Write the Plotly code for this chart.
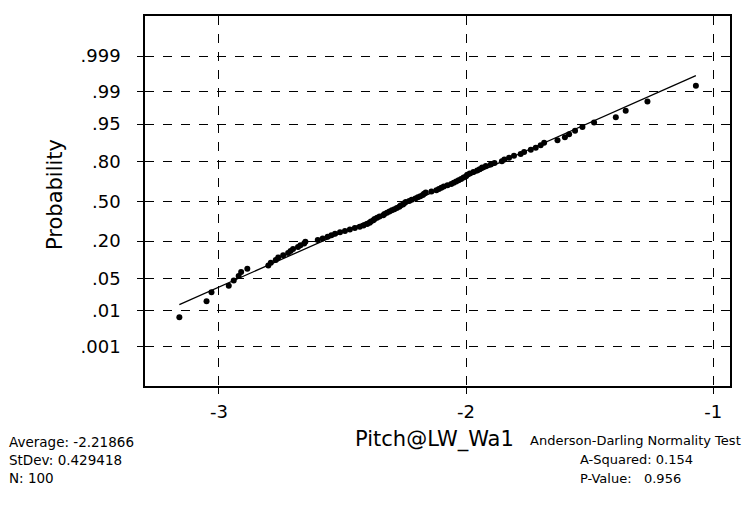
import plotly.graph_objects as go
from statistics import NormalDist

# ---- data ----
pitch_sorted = [
    -3.16, -3.05, -3.03, -2.96, -2.94, -2.92, -2.91, -2.885, -2.80, -2.79,
    -2.77, -2.76, -2.74, -2.72, -2.71, -2.70, -2.68, -2.67, -2.655, -2.65,
    -2.60, -2.58, -2.56, -2.545, -2.53, -2.51, -2.49, -2.47, -2.45, -2.43,
    -2.415, -2.40, -2.39, -2.385, -2.375, -2.37, -2.36, -2.35, -2.335, -2.33,
    -2.32, -2.31, -2.30, -2.29, -2.28, -2.27, -2.265, -2.255, -2.25, -2.244,
    -2.23, -2.22, -2.205, -2.195, -2.185, -2.175, -2.17, -2.163, -2.14, -2.12,
    -2.11, -2.10, -2.09, -2.075, -2.06, -2.05, -2.04, -2.03, -2.02, -2.01,
    -2.00, -1.995, -1.985, -1.97, -1.955, -1.945, -1.935, -1.92, -1.90, -1.885,
    -1.855, -1.845, -1.826, -1.806, -1.779, -1.765, -1.738, -1.718, -1.698, -1.684,
    -1.63, -1.60, -1.583, -1.559, -1.529, -1.482, -1.394, -1.354, -1.266, -1.07,
]
mean_val = -2.21866
stdev_val = 0.429418
n_val = 100
a_squared = 0.154
p_value = 0.956

prob_ticks = [0.999, 0.99, 0.95, 0.80, 0.50, 0.20, 0.05, 0.01, 0.001]
prob_labels = [".999", ".99", ".95", ".80", ".50", ".20", ".05", ".01", ".001"]
x_ticks = [-3, -2, -1]
x_tick_labels = ["-3", "-2", "-1"]

# ---- probability-plot construction ----
nd = NormalDist()
n = len(pitch_sorted)
z_pos = [nd.inv_cdf((i + 1 - 0.3) / (n + 0.4)) for i in range(n)]  # Benard median ranks
line_x = [min(pitch_sorted), max(pitch_sorted)]
line_z = [(v - mean_val) / stdev_val for v in line_x]
tick_z = [nd.inv_cdf(p) for p in prob_ticks]

FONT = "DejaVu Sans"
L, R, T, B = 145, 20, 16, 136
W, H = 750, 522
PW, PH = W - L - R, H - T - B

def px(xp):
    return (xp - L) / PW

def py(yp):
    return (H - B - yp) / PH

fig = go.Figure()
fig.add_trace(go.Scatter(x=line_x, y=line_z, mode="lines",
                         line=dict(color="black", width=1.3), hoverinfo="skip"))
fig.add_trace(go.Scatter(x=pitch_sorted, y=z_pos, mode="markers",
                         marker=dict(color="black", size=6, symbol="circle")))

fig.update_layout(
    width=W, height=H, showlegend=False,
    margin=dict(l=L, r=R, t=T, b=B),
    paper_bgcolor="white", plot_bgcolor="white",
    font=dict(family=FONT, color="black"),
)
fig.update_xaxes(
    range=[-3.299, -0.932], tickvals=x_ticks, ticktext=x_tick_labels,
    showgrid=True, gridcolor="black", griddash="dash", gridwidth=1,
    zeroline=False, showline=True, mirror=True, linecolor="black", linewidth=1.5,
    ticks="outside", ticklen=6, tickcolor="black", ticklabelstandoff=3,
    tickfont=dict(size=18, family=FONT),
)
fig.update_yaxes(
    range=[-3.92, 3.94], tickvals=tick_z, ticktext=prob_labels,
    showgrid=True, gridcolor="black", griddash="dash", gridwidth=1,
    zeroline=False, showline=True, mirror=True, linecolor="black", linewidth=1.5,
    ticks="outside", ticklen=6, tickcolor="black", ticklabelstandoff=13,
    tickfont=dict(size=18, family=FONT),
)

ann = []
ann.append(dict(text="Probability", x=px(55), y=py(195), textangle=-90,
                font=dict(size=21)))
ann.append(dict(text="Pitch@LW_Wa1", x=px(434), y=py(439), font=dict(size=21)))
for i, t in enumerate([f"Average: {mean_val}", f"StDev: {stdev_val}", f"N: {n_val}"]):
    ann.append(dict(text=t, x=px(7), y=py(442 + 18 * i), xanchor="left",
                    font=dict(size=13.5)))
ann.append(dict(text="Anderson-Darling Normality Test", x=px(743), y=py(440),
                xanchor="right", font=dict(size=13)))
ann.append(dict(text=f"A-Squared: {a_squared}", x=px(578), y=py(459),
                xanchor="left", font=dict(size=13)))
ann.append(dict(text=f"P-Value:\u00a0\u00a0 {p_value}", x=px(578), y=py(478),
                xanchor="left", font=dict(size=13)))
for a in ann:
    a.update(xref="paper", yref="paper", showarrow=False, yanchor="middle")
    a.setdefault("xanchor", "center")
fig.update_layout(annotations=ann)

fig.write_html("out.html", config={"displayModeBar": False},
               post_script="document.body.style.margin='0px';")
